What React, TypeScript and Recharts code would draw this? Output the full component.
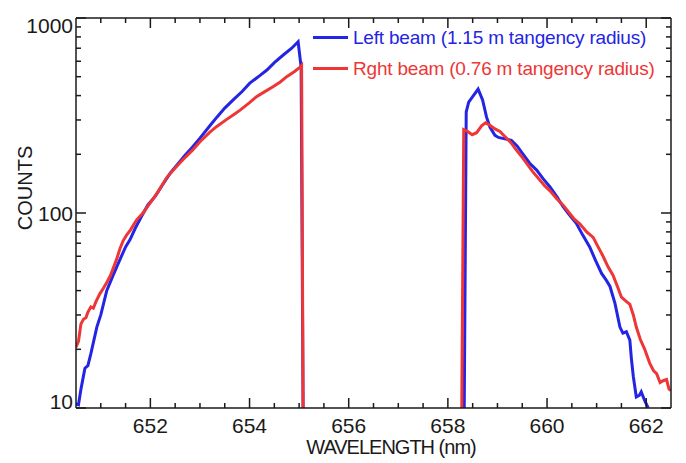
import { LineChart, Line, XAxis, YAxis, Legend } from "recharts";

// wavelength (nm) / counts, each beam split into its two wings
const blueLeftWl = [
    650.5, 650.55, 650.6, 650.68, 650.74, 650.8, 650.92, 651.0, 651.12, 651.25, 651.35, 651.5, 651.59, 651.7, 651.82,
    651.95, 652.1, 652.25, 652.4, 652.55, 652.7, 652.85, 653.0, 653.2, 653.35, 653.5, 653.67, 653.85, 654.0, 654.2,
    654.35, 654.5, 654.68, 654.85, 654.98, 655.04, 655.08,
];
const blueLeftCounts = [
    10.5, 10.4, 12.5, 16, 16.5, 19, 26, 30, 40, 48, 55, 67, 73, 84, 96,
    110, 122, 140, 160, 178, 198, 218, 242, 280, 312, 345, 380, 420, 462, 505,
    541, 590, 646, 700, 755, 560, 10,
];
const blueRightWl = [
    658.33, 658.37, 658.42, 658.5, 658.61, 658.7, 658.78, 658.85, 658.95, 659.02, 659.15, 659.28, 659.4, 659.5,
    659.65, 659.79, 659.92, 660.06, 660.2, 660.32, 660.45, 660.59, 660.72, 660.86, 660.98, 661.1, 661.2, 661.27,
    661.37, 661.47, 661.53, 661.6, 661.67, 661.7, 661.74, 661.8, 661.86, 661.9, 661.97, 662.04,
];
const blueRightCounts = [
    10, 330, 370, 395, 432, 380, 310, 275, 250, 244, 240, 236, 220, 203,
    180, 166, 150, 136, 121, 108, 98, 88.6, 77, 67, 57, 49, 45, 42,
    34.4, 26, 24.2, 24.6, 22.3, 18, 14.5, 11.4, 11.6, 12.1, 10.9, 10,
];

const redLeftWl = [
    650.5, 650.55, 650.6, 650.65, 650.7, 650.74, 650.8, 650.85, 650.9, 650.98, 651.05, 651.12, 651.19, 651.25, 651.32,
    651.39, 651.45, 651.52, 651.6, 651.72, 651.85, 651.99, 652.15, 652.33, 652.5, 652.66, 652.85, 653.0, 653.2, 653.34,
    653.54, 653.7, 653.81, 654.0, 654.14, 654.3, 654.48, 654.62, 654.75, 654.9, 655.02, 655.05, 655.08,
];
const redLeftCounts = [
    20.5, 22, 27, 28.5, 29, 31, 33, 32.5, 35, 38.5, 41, 44, 47.5, 52, 58,
    66, 72, 77, 82, 92, 100, 112, 128, 152, 170, 188, 210, 232, 260, 278,
    302, 322, 337, 368, 395, 418, 445, 470, 500, 530, 560, 572, 10,
];
const redRightWl = [
    658.28, 658.32, 658.4, 658.49, 658.58, 658.68, 658.76, 658.85, 658.95, 659.05, 659.17, 659.28, 659.37, 659.5,
    659.6, 659.71, 659.85, 659.95, 660.06, 660.2, 660.32, 660.45, 660.55, 660.66, 660.8, 660.93, 661.03, 661.13,
    661.23, 661.33, 661.42, 661.5, 661.58, 661.67, 661.74, 661.8, 661.88, 661.97, 662.07, 662.15, 662.21, 662.28,
    662.34, 662.41, 662.46, 662.5,
];
const redRightCounts = [
    10, 268, 262, 252, 258, 280, 290, 282, 270, 262, 244, 228, 212, 193,
    178, 163, 148, 138, 130, 118, 110, 100, 93, 88, 80, 75, 67, 60,
    53, 48, 42, 37, 35.5, 34, 30, 26, 22.5, 20, 17, 15.5, 15, 13.5,
    13.8, 14, 12.5, 12.3,
];

const xTicks = [
    651, 651.5, 652, 652.5, 653, 653.5, 654, 654.5, 655, 655.5, 656, 656.5, 657, 657.5, 658, 658.5, 659, 659.5,
    660, 660.5, 661, 661.5, 662,
];
const xLabels = [652, 654, 656, 658, 660, 662];
const yTicks = [10, 20, 30, 40, 50, 60, 70, 80, 90, 100, 200, 300, 400, 500, 600, 700, 800, 900, 1000];
const yLabels = [10, 100, 1000];

const zip = (wl: number[], c: number[]) => wl.map((w, i) => ({ wl: w, c: c[i] }));
const blueLeft = zip(blueLeftWl, blueLeftCounts);
const blueRight = zip(blueRightWl, blueRightCounts);
const redLeft = zip(redLeftWl, redLeftCounts);
const redRight = zip(redRightWl, redRightCounts);

const FONT = "'Liberation Sans', Arial, Helvetica, sans-serif";
const INK = "#1a1a1a";
const BLUE = "#2424e4";
const RED = "#ee3636";

// chart sits inside the body's 8px margin: 678 x 455
const W = 678;
const H = 455;

function BottomTick(p: any) {
    const major = xLabels.includes(p.payload.value);
    return (
        <g>
            <line x1={p.x} x2={p.x} y1={p.y} y2={p.y - (major ? 10 : 5)} stroke={INK} strokeWidth={1.5} />
            {major && (
                <text x={p.x} y={p.y + 25} textAnchor="middle" fontSize={21} fontFamily={FONT} fill={INK}>
                    {p.payload.value}
                </text>
            )}
        </g>
    );
}

function TopTick(p: any) {
    const major = xLabels.includes(p.payload.value);
    return <line x1={p.x} x2={p.x} y1={p.y} y2={p.y + (major ? 10 : 5)} stroke={INK} strokeWidth={1.5} />;
}

function LeftTick(p: any) {
    const major = yLabels.includes(p.payload.value);
    // labels at the box corners sit inside the box height
    const cy = Math.min(Math.max(p.y, 17), 393);
    return (
        <g>
            <line x1={p.x} x2={p.x + (major ? 10 : 5)} y1={p.y} y2={p.y} stroke={INK} strokeWidth={1.5} />
            {major && (
                <text x={p.x - 3} y={cy + 7.5} textAnchor="end" fontSize={21} fontFamily={FONT} fill={INK}>
                    {p.payload.value}
                </text>
            )}
        </g>
    );
}

function RightTick(p: any) {
    const major = yLabels.includes(p.payload.value);
    return <line x1={p.x} x2={p.x - (major ? 10 : 5)} y1={p.y} y2={p.y} stroke={INK} strokeWidth={1.5} />;
}

function LegendBox(props: any) {
    const items = (props.payload || []).filter((it: any) => it.type !== "none");
    return (
        <div style={{ fontFamily: FONT }}>
            {items.map((it: any) => (
                <div key={it.value} style={{ display: "flex", alignItems: "center", height: 31, whiteSpace: "nowrap" }}>
                    <span style={{ display: "inline-block", width: 35, height: 3, background: it.color, marginRight: 5 }} />
                    <span style={{ fontSize: 19, color: it.color, letterSpacing: -0.2 }}>{it.value}</span>
                </div>
            ))}
        </div>
    );
}

const titleStyle = {
    position: "absolute" as const,
    fontFamily: FONT,
    fontSize: 20,
    color: INK,
    whiteSpace: "nowrap" as const,
    lineHeight: 1,
};

export default function App() {
    const axisLine = { stroke: INK, strokeWidth: 1.5 };
    const lp = { type: "linear" as const, strokeWidth: 3, dot: false, activeDot: false, isAnimationActive: false, dataKey: "c" };
    return (
        <div style={{ position: "relative", width: W, height: H }}>
            <LineChart width={W} height={H} margin={{ top: 5, right: 10, bottom: 25, left: 8 }}>
                <XAxis xAxisId="b" type="number" dataKey="wl" domain={[650.5, 662.5]} allowDataOverflow ticks={xTicks} interval={0} height={30} tickSize={0} tickMargin={0} tickLine={false} axisLine={axisLine} tick={(p: any) => <BottomTick {...p} />} />
                <XAxis xAxisId="t" orientation="top" type="number" dataKey="wl" domain={[650.5, 662.5]} allowDataOverflow ticks={xTicks} interval={0} height={5} tickSize={0} tickMargin={0} tickLine={false} axisLine={axisLine} tick={(p: any) => <TopTick {...p} />} />
                <YAxis yAxisId="l" scale="log" domain={[10, 1000]} allowDataOverflow ticks={yTicks} interval={0} width={60} tickSize={0} tickMargin={0} tickLine={false} axisLine={axisLine} tick={(p: any) => <LeftTick {...p} />} />
                <YAxis yAxisId="r" orientation="right" scale="log" domain={[10, 1000]} allowDataOverflow ticks={yTicks} interval={0} width={5} tickSize={0} tickMargin={0} tickLine={false} axisLine={axisLine} tick={(p: any) => <RightTick {...p} />} />
                <Legend
                    layout="vertical"
                    align="center"
                    verticalAlign="middle"
                    content={(p: any) => <LegendBox {...p} />}
                    wrapperStyle={{ left: 305, top: 14, width: "auto" }}
                />
                <Line {...lp} xAxisId="b" yAxisId="l" data={blueLeft} name="Left beam (1.15 m tangency radius)" stroke={BLUE} />
                <Line {...lp} xAxisId="b" yAxisId="l" data={blueRight} name="Left beam right wing" stroke={BLUE} legendType="none" />
                {/* same domains as b/l, so the mirrored top/right axes get drawn too */}
                <Line {...lp} xAxisId="t" yAxisId="r" data={redLeft} name="Rght beam (0.76 m tangency radius)" stroke={RED} />
                <Line {...lp} xAxisId="t" yAxisId="r" data={redRight} name="Right beam right wing" stroke={RED} legendType="none" />
            </LineChart>
            <div style={{ ...titleStyle, left: 383, top: 439, letterSpacing: -1, transform: "translate(-50%, -50%)" }}>
                WAVELENGTH (nm)
            </div>
            <div style={{ ...titleStyle, left: 17, top: 180, transform: "translate(-50%, -50%) rotate(-90deg)" }}>COUNTS</div>
        </div>
    );
}
